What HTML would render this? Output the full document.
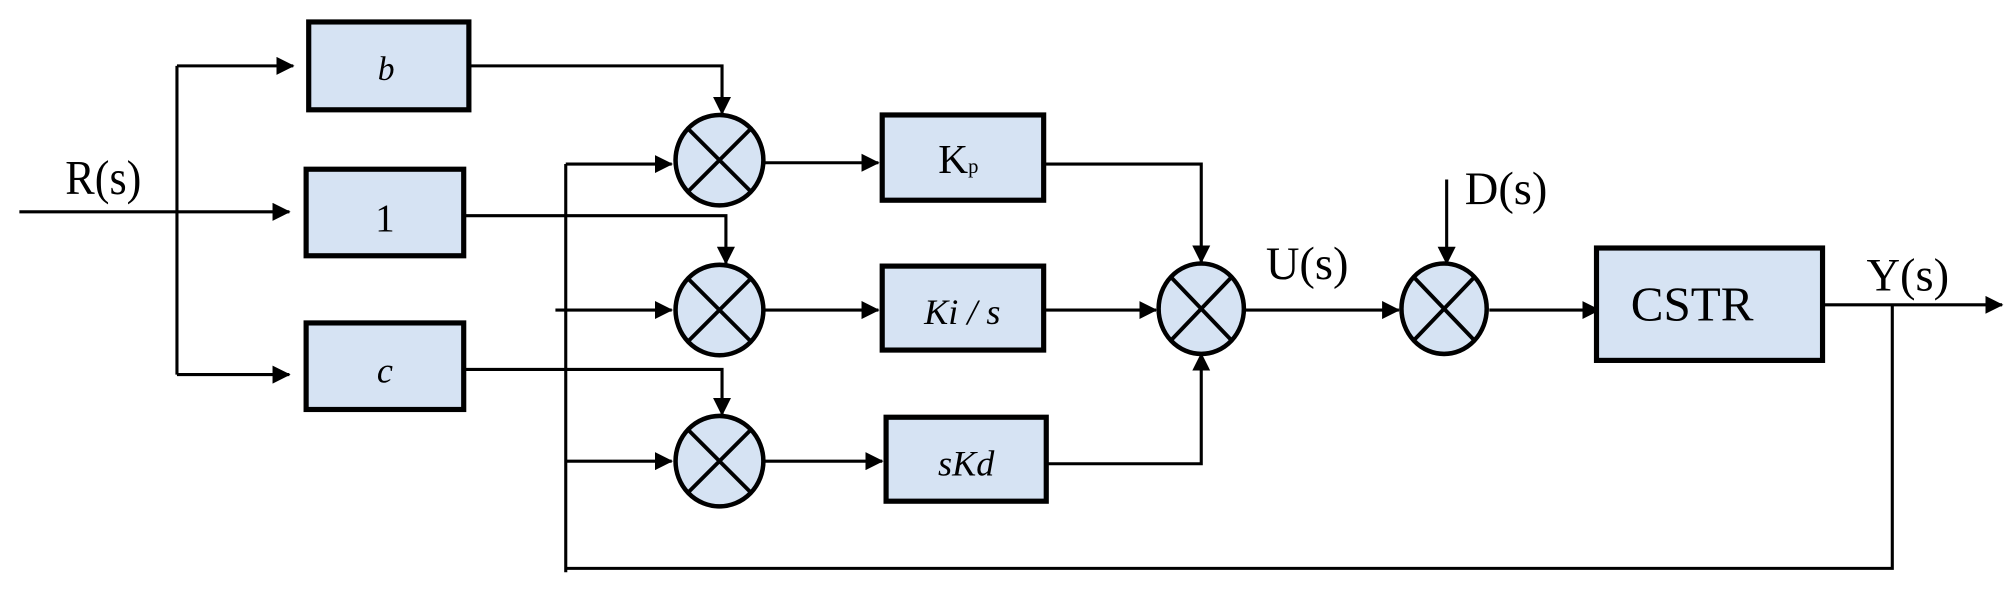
<!DOCTYPE html>
<html><head><style>html,body{margin:0;padding:0;background:#fff}svg{display:block}</style></head><body>
<svg width="2015" height="611" viewBox="0 0 1560 473" preserveAspectRatio="none" xmlns="http://www.w3.org/2000/svg">
<defs>
<marker id="a" markerWidth="14" markerHeight="14" refX="13" refY="7" orient="auto" markerUnits="userSpaceOnUse" viewBox="0 0 14 14"><path d="M0,0 L14,7 L0,14 z" fill="#000"/></marker>
</defs>
<style>
.l{stroke:#000;stroke-width:2.4;fill:none}
.b{fill:#d6e3f3;stroke:#000;stroke-width:4}
.s{fill:#d6e3f3;stroke:#000;stroke-width:3.5}
.x{stroke:#000;stroke-width:3}
text{font-family:"Liberation Serif",serif;fill:#000}
</style>
<g class="l">
<path d="M15,164 H224" style="marker-end:url(#a)"/>
<path d="M137,51 V290"/>
<path d="M137,51 H227" style="marker-end:url(#a)"/>
<path d="M137,290 H224" style="marker-end:url(#a)"/>
<path d="M363,51 H559 V88" style="marker-end:url(#a)"/>
<path d="M359,167 H562 V204" style="marker-end:url(#a)"/>
<path d="M359,286 H559 V321" style="marker-end:url(#a)"/>
<path d="M438,127 V443"/>
<path d="M438,127 H520" style="marker-end:url(#a)"/>
<path d="M430,240 H520" style="marker-end:url(#a)"/>
<path d="M438,357 H520" style="marker-end:url(#a)"/>
<path d="M438,440 H1465 V236"/>
<path d="M592,126 H680" style="marker-end:url(#a)"/>
<path d="M592,240 H680" style="marker-end:url(#a)"/>
<path d="M592,357 H683" style="marker-end:url(#a)"/>
<path d="M808,127 H930 V203" style="marker-end:url(#a)"/>
<path d="M808,240 H895" style="marker-end:url(#a)"/>
<path d="M810,359 H930 V274" style="marker-end:url(#a)"/>
<path d="M964,240 H1083" style="marker-end:url(#a)"/>
<path d="M1120,139 V204" style="marker-end:url(#a)"/>
<path d="M1153,240 H1238" style="marker-end:url(#a)"/>
<path d="M1412,236 H1550" style="marker-end:url(#a)"/>
</g>
<rect class="b" x="239" y="17" width="124" height="68"/>
<rect class="b" x="237" y="131" width="122" height="67"/>
<rect class="b" x="237" y="250" width="122" height="67"/>
<rect class="b" x="683" y="89" width="125" height="66"/>
<rect class="b" x="683" y="206" width="125" height="65"/>
<rect class="b" x="686" y="323" width="124" height="65"/>
<rect class="b" x="1236" y="192" width="175" height="87"/>
<g>
<ellipse class="s" cx="557" cy="124" rx="34" ry="35"/>
<path class="x" d="M533,100 L581,148 M581,100 L533,148"/>
<ellipse class="s" cx="557" cy="240" rx="34" ry="35"/>
<path class="x" d="M533,216 L581,264 M581,216 L533,264"/>
<ellipse class="s" cx="557" cy="357" rx="34" ry="35"/>
<path class="x" d="M533,333 L581,381 M581,333 L533,381"/>
<ellipse class="s" cx="930" cy="239" rx="33" ry="35"/>
<path class="x" d="M907,215 L953,263 M953,215 L907,263"/>
<ellipse class="s" cx="1118" cy="239" rx="33" ry="35"/>
<path class="x" d="M1095,215 L1141,263 M1141,215 L1095,263"/>
</g>
<text x="80" y="150" font-size="38" text-anchor="middle" transform="translate(80,0) scale(0.9,1) translate(-80,0)">R(s)</text>
<text x="299" y="62" font-size="26" font-style="italic" text-anchor="middle">b</text>
<text x="298" y="179" font-size="30" text-anchor="middle">1</text>
<text x="298" y="296" font-size="28" font-style="italic" text-anchor="middle">c</text>
<text x="742" y="134" font-size="32" text-anchor="middle">K<tspan font-size="16">p</tspan></text>
<text x="745" y="251" font-size="28" font-style="italic" text-anchor="middle">Ki / s</text>
<text x="748" y="368" font-size="28" font-style="italic" text-anchor="middle">sKd</text>
<text x="1012" y="216" font-size="36" text-anchor="middle">U(s)</text>
<text x="1166" y="158" font-size="36" text-anchor="middle">D(s)</text>
<text x="1310" y="248" font-size="38" text-anchor="middle">CSTR</text>
<text x="1477" y="225" font-size="36" text-anchor="middle">Y(s)</text>
</svg>
</body></html>
